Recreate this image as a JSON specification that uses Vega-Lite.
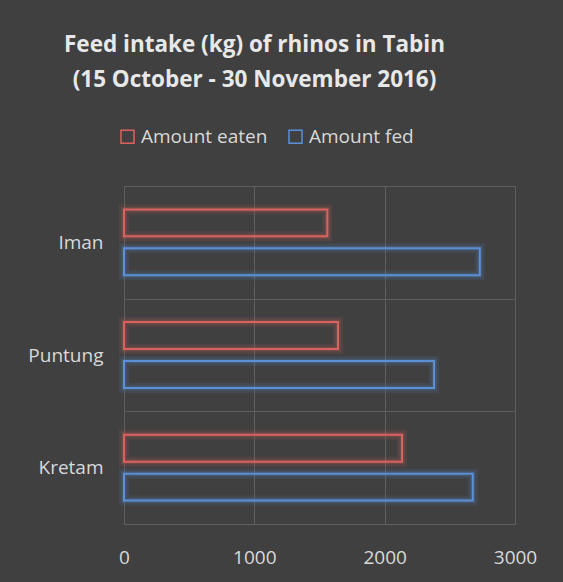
{
  "$schema": "https://vega.github.io/schema/vega-lite/v6.json",
  "width": 391,
  "height": 338,
  "autosize": "none",
  "padding": {"left": 124, "top": 186, "right": 48, "bottom": 58},
  "background": "#404040",
  "config": {"view": {"stroke": null}},
  "title": {
    "text": ["Feed intake (kg) of rhinos in Tabin", "(15 October - 30 November 2016)"],
    "font": "Open Sans",
    "fontSize": 22.5,
    "fontWeight": "bold",
    "color": "#e8e8e8",
    "anchor": "middle",
    "frame": "group",
    "dx": -65,
    "offset": 36,
    "lineHeight": 35
  },
  "data": {
    "values": [
      {"rhino": "Iman", "series": "Amount eaten", "value": 1560},
      {"rhino": "Iman", "series": "Amount fed", "value": 2730},
      {"rhino": "Puntung", "series": "Amount eaten", "value": 1642},
      {"rhino": "Puntung", "series": "Amount fed", "value": 2379},
      {"rhino": "Kretam", "series": "Amount eaten", "value": 2133},
      {"rhino": "Kretam", "series": "Amount fed", "value": 2676}
    ]
  },
  "encoding": {
    "y": {
      "field": "rhino",
      "type": "nominal",
      "sort": ["Iman", "Puntung", "Kretam"],
      "scale": {"paddingInner": 0, "paddingOuter": 0},
      "axis": {
        "title": null,
        "domain": false,
        "ticks": false,
        "labelPadding": 21,
        "labelFont": "Open Sans",
        "labelFontSize": 19,
        "labelColor": "#d9d9d9",
        "grid": true,
        "tickBand": "extent",
        "gridColor": "#5e5e5e",
        "gridWidth": 1
      }
    },
    "yOffset": {
      "field": "series",
      "type": "nominal",
      "sort": ["Amount eaten", "Amount fed"],
      "scale": {"paddingInner": 0.3077, "paddingOuter": 0.602}
    },
    "x": {
      "field": "value",
      "type": "quantitative",
      "scale": {"domain": [0, 3000]},
      "axis": {
        "title": null,
        "values": [0, 1000, 2000, 3000],
        "format": "d",
        "labelFlush": false,
        "domain": false,
        "ticks": false,
        "labelPadding": 24,
        "labelFont": "Open Sans",
        "labelFontSize": 19,
        "labelColor": "#d9d9d9",
        "grid": true,
        "gridColor": "#5e5e5e",
        "gridWidth": 1
      }
    },
    "stroke": {
      "field": "series",
      "type": "nominal",
      "scale": {"domain": ["Amount eaten", "Amount fed"], "range": ["#d9625e", "#5b8fd6"]},
      "legend": {
        "title": null,
        "orient": "none",
        "legendX": -6,
        "legendY": -59,
        "direction": "horizontal",
        "symbolType": "square",
        "symbolSize": 169,
        "symbolStrokeWidth": 1.5,
        "symbolFillColor": "transparent",
        "symbolOpacity": 1,
        "labelFont": "Open Sans",
        "labelFontSize": 19,
        "labelColor": "#d9d9d9",
        "labelOffset": 4,
        "columnPadding": 18
      }
    }
  },
  "layer": [
    {
      "mark": {"type": "bar", "fill": "transparent", "strokeWidth": 10, "strokeOpacity": 0.12}
    },
    {
      "mark": {"type": "bar", "fill": "transparent", "strokeWidth": 5, "strokeOpacity": 0.2}
    },
    {
      "mark": {"type": "bar", "fill": "transparent", "strokeWidth": 2}
    }
  ]
}
